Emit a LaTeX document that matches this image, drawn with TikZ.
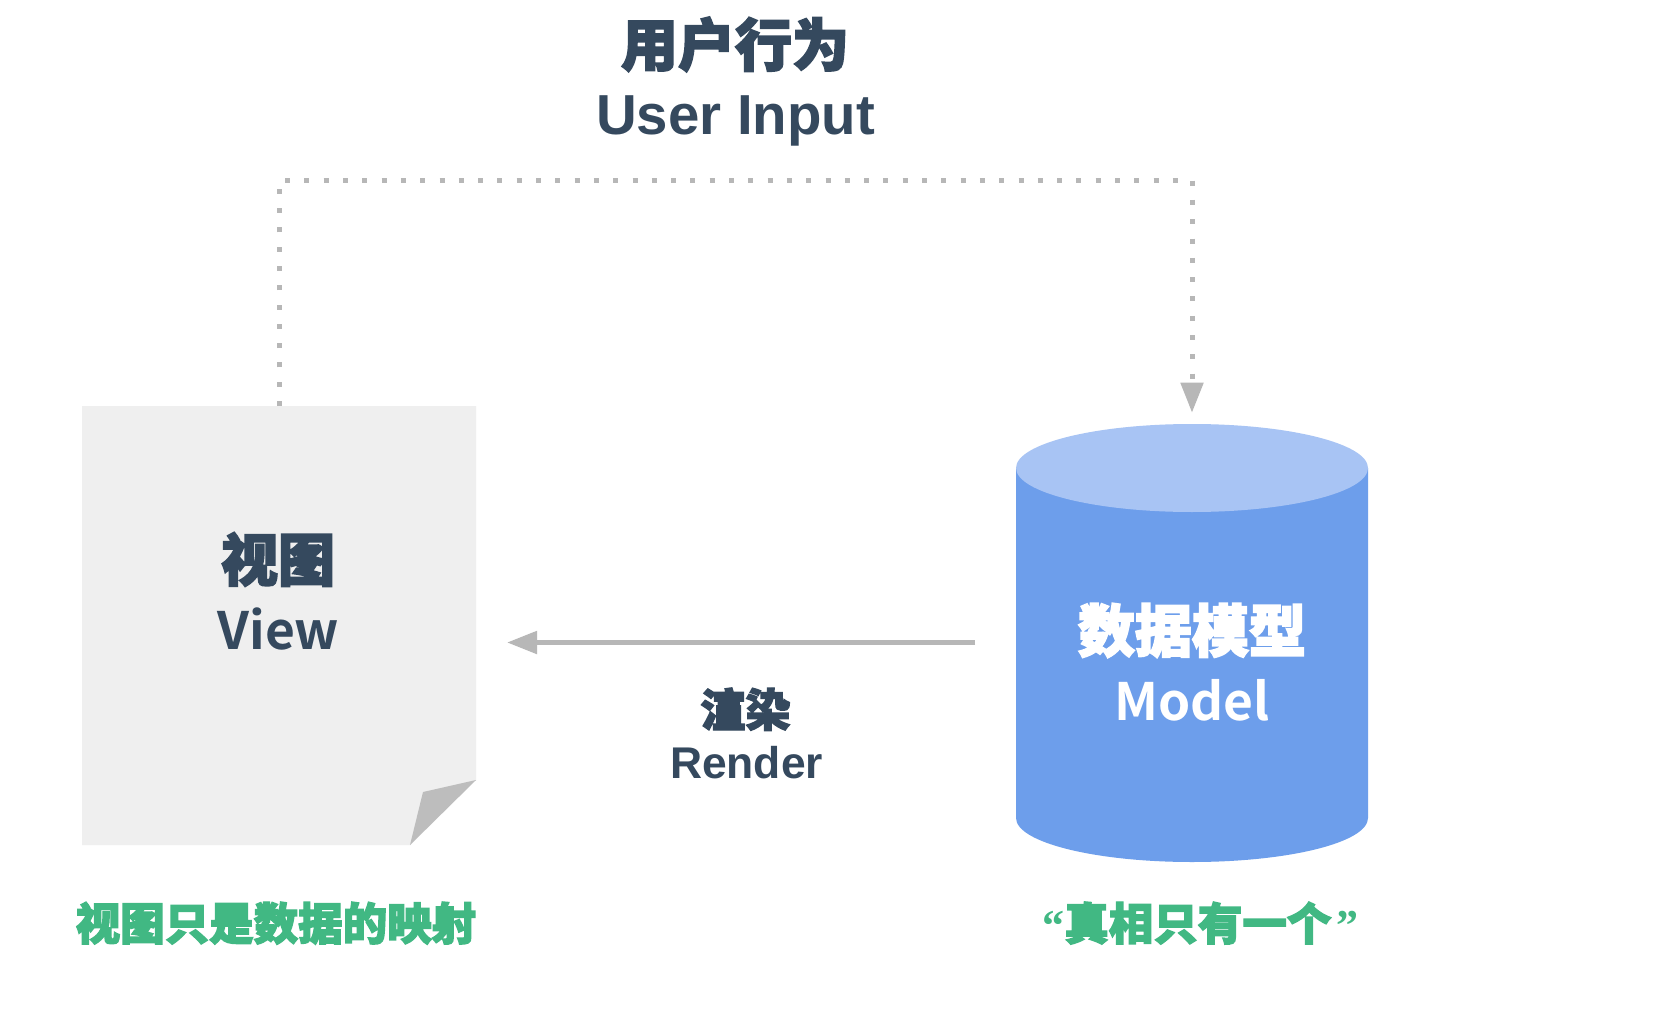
\documentclass[tikz,border=0pt]{standalone}
\usepackage{fontspec}
\usetikzlibrary{arrows.meta}
\setmainfont{Liberation Sans}
\newfontfamily\cjk[BoldFont={Noto Sans CJK SC Black},BoldFeatures={FakeBold=3}]{Noto Sans CJK SC}
\newfontfamily\quotefont{Liberation Serif}
\definecolor{ink}{HTML}{35495E}
\definecolor{vuegreen}{HTML}{41B883}
\definecolor{pagefill}{HTML}{EFEFEF}
\definecolor{foldfill}{HTML}{BDBDBD}
\definecolor{linegray}{HTML}{B7B7B7}
\definecolor{cylbody}{HTML}{6D9EEB}
\definecolor{cyltop}{HTML}{A8C4F4}
\tikzset{
  anchorbox/.style={inner sep=0pt,outer sep=0pt,draw=none},
  cjklabel/.style={inner sep=0pt,outer sep=0pt,anchor=base,text=#1,font=\cjk\bfseries},
  latinlabel/.style={inner sep=0pt,outer sep=0pt,anchor=base,text=#1,font=\bfseries},
  hanlatin/.style={inner sep=0pt,outer sep=0pt,anchor=base,text=#1,font=\cjk},
}
\newcommand{\fsz}[1]{\fontsize{#1}{#1}\selectfont}
\begin{document}
\begin{tikzpicture}[x=1pt,y=-1pt]
\useasboundingbox (0,0) rectangle (1654,1016);
\fill[white] (0,0) rectangle (1654,1016);
% page
\node[anchorbox,minimum width=394pt,minimum height=439pt] (view) at (279,625.5) {};
\fill[pagefill] (82,406) -- (476,406) -- (476,780) -- (410,845) -- (82,845) -- cycle;
\fill[foldfill] (476,780) -- (423,792) -- (410,845) -- cycle;
% cylinder
\node[anchorbox,minimum width=352pt,minimum height=437pt] (model) at (1192,642.5) {};
\fill[cylbody] (1016,468) -- (1016,818) arc[start angle=180,end angle=360,x radius=176,y radius=-44] -- (1368,468) -- cycle;
\fill[cyltop] (1192,468) ellipse[x radius=176,y radius=44];
% connectors
\coordinate (turn) at (1192,180.5);
\draw[linegray,line width=5pt,dash pattern=on 5pt off 14.3pt,shorten >=11.3pt,-{Triangle[length=30pt,width=22pt]}]
  (view.north) |- (turn) -- (model.north);
\draw[linegray,line width=5pt,shorten <=41pt,shorten >=31pt,-{Triangle[length=30pt,width=22pt]}]
  (model.west) -- (view.east |- model.west);
% labels
\node[cjklabel=ink] (tUser) at (735,66) {\fsz{57}用户行为};
\node[latinlabel=ink] (tInput) at (735.5,135) {\fsz{56.4}User Input};
\node[cjklabel=ink] (tView) at (278,581) {\fsz{57}视图};
\node[hanlatin=ink] (tViewEn) at (278.5,649) {\fontspec{Noto Sans CJK SC Bold}\fsz{51.5}View};
\node[cjklabel=white] (tModel) at (1192,652) {\fsz{57}数据模型};
\node[hanlatin=white] (tModelEn) at (1192,720) {\fontspec{Noto Sans CJK SC Bold}\fsz{51.5}Model};
\node[cjklabel=ink] (tRender) at (745.5,726.5) {\fsz{45}渲染};
\node[latinlabel=ink] (tRenderEn) at (746.5,778) {\fsz{44.4}Render};
\node[cjklabel=vuegreen] (tMap) at (276,940) {\fsz{44.5}视图只是数据的映射};
\node[cjklabel=vuegreen] (tTruth) at (1200.5,940) {\fsz{44.5}{\quotefont\bfseries\fontsize{44}{44}\selectfont “}真相只有一个{\quotefont\bfseries\fontsize{44}{44}\selectfont\kern0.12em ”}};
\end{tikzpicture}
\end{document}
